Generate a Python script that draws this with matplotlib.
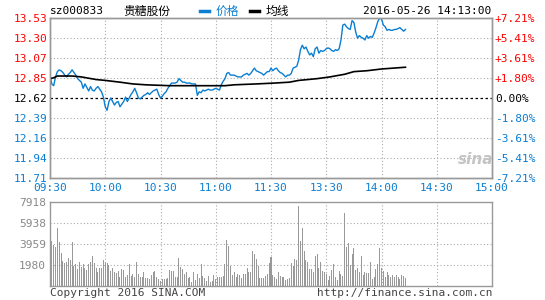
import matplotlib
matplotlib.use("Agg")
import matplotlib.pyplot as plt

# minutes since 09:30, lunch break removed (11:30 == 13:00)
price_min = list(range(0, 194))
price = [
    12.87, 12.78, 12.76, 12.86, 12.92, 12.94, 12.93, 12.91, 12.88, 12.86,
    12.89, 12.91, 12.94, 12.91, 12.88, 12.84, 12.82, 12.80, 12.73, 12.78,
    12.74, 12.70, 12.75, 12.71, 12.70, 12.73, 12.75, 12.72, 12.69, 12.63,
    12.52, 12.48, 12.58, 12.62, 12.58, 12.54, 12.57, 12.58, 12.52, 12.55,
    12.58, 12.63, 12.58, 12.62, 12.66, 12.69, 12.73, 12.68, 12.62, 12.61,
    12.63, 12.65, 12.66, 12.68, 12.66, 12.68, 12.70, 12.71, 12.72, 12.66,
    12.62, 12.64, 12.67, 12.69, 12.73, 12.76, 12.79, 12.79, 12.79, 12.80,
    12.84, 12.82, 12.80, 12.80, 12.79, 12.79, 12.79, 12.78, 12.78, 12.78,
    12.65, 12.69, 12.68, 12.71, 12.70, 12.71, 12.72, 12.71, 12.71, 12.72,
    12.73, 12.72, 12.71, 12.77, 12.81, 12.84, 12.90, 12.91, 12.88, 12.88,
    12.88, 12.87, 12.86, 12.86, 12.86, 12.88, 12.89, 12.90, 12.88, 12.90,
    12.93, 12.96, 12.93, 12.92, 12.91, 12.90, 12.88, 12.90, 12.92, 12.92,
    12.96, 12.93, 12.95, 12.96, 12.93, 12.91, 12.90, 12.88, 12.86, 12.88,
    12.88, 12.90, 12.96, 12.97, 12.98, 13.05, 13.17, 13.22, 13.18, 13.20,
    13.15, 13.11, 13.13, 13.09, 13.18, 13.20, 13.13, 13.16, 13.15, 13.16,
    13.18, 13.19, 13.18, 13.16, 13.15, 13.17, 13.16, 13.18, 13.28, 13.45,
    13.46, 13.43, 13.41, 13.40, 13.50, 13.48, 13.37, 13.30, 13.33, 13.31,
    13.30, 13.28, 13.33, 13.30, 13.32, 13.31, 13.36, 13.42, 13.49, 13.53,
    13.52, 13.45, 13.43, 13.39, 13.40, 13.39, 13.39, 13.40, 13.40, 13.41,
    13.42, 13.40, 13.38, 13.40,
]

avg_min = [0, 2, 4, 12, 17, 25, 30, 38, 45, 52, 65, 95, 100, 112, 122,
           130, 135, 145, 152, 160, 165, 172, 180, 193]
avg_price = [12.84, 12.85, 12.87, 12.87, 12.86, 12.83, 12.82, 12.80, 12.78,
             12.77, 12.76, 12.76, 12.77, 12.78, 12.79, 12.80, 12.82, 12.84,
             12.86, 12.89, 12.92, 12.93, 12.95, 12.97]

volume = [
    7918, 4240, 3830, 3610, 5400, 4145, 3046, 2355, 2100, 2260,
    2575, 2420, 4080, 1880, 2010, 1570, 2230, 1790, 2010, 1630,
    1475, 2040, 2260, 2795, 2100, 1630, 1320, 1630, 1630, 2420,
    2260, 2100, 1915, 1413, 1630, 1320, 1225, 1413, 850, 1540,
    1475, 785, 1005, 2040, 910, 1100, 785, 2200, 1100, 785,
    785, 1256, 690, 690, 600, 1005, 1256, 1380, 785, 600,
    470, 600, 600, 630, 755, 1475, 1380, 1380, 785, 850,
    2575, 1790, 1540, 1100, 1256, 690, 850, 377, 1256, 535,
    1100, 690, 2040, 910, 690, 470, 910, 377, 470, 1005,
    600, 850, 785, 850, 910, 2040, 4300, 3740, 1850, 1005,
    1320, 850, 1100, 1005, 755, 1100, 1100, 1630, 1256, 1320,
    3270, 2980, 2480, 1850, 690, 690, 690, 910, 1100, 2165,
    2670, 1005, 785, 600, 1320, 910, 850, 785, 535, 660,
    690, 2100, 1850, 2480, 2420, 7505, 4240, 5400, 3270, 2420,
    2200, 1540, 1540, 1256, 2795, 2980, 1630, 2200, 1413, 1320,
    1100, 535, 910, 1475, 2010, 785, 535, 1380, 1100, 910,
    6877, 3610, 3990, 1945, 2980, 3520, 1475, 1630, 1320, 2795,
    1005, 1320, 1225, 1225, 2260, 600, 785, 1540, 2010, 3520,
    1630, 1413, 785, 1320, 1005, 785, 1005, 850, 1005, 850,
    600, 1005, 910, 690,
]

time_ticks = [0, 30, 60, 90, 120, 150, 180, 210, 240]
time_labels = ["09:30", "10:00", "10:30", "11:00", "11:30",
               "13:30", "14:00", "14:30", "15:00"]
price_ticks = [11.71, 11.94, 12.16, 12.39, 12.62, 12.85, 13.07, 13.30, 13.53]
pct_labels = ["-7.21%", "-5.41%", "-3.61%", "-1.80%", "0.00%",
              "+1.80%", "+3.61%", "+5.41%", "+7.21%"]
vol_ticks = [1980, 3959, 5938, 7918]
vol_labels = ["1980", "3959", "5938", "7918"]

BLUE = "#0a7ed2"
RED = "#ff0000"
GRAY = "#999999"
MONO = "DejaVu Sans Mono"
CJK = ["Noto Sans CJK SC", "DejaVu Sans"]
FS = 8

fig = plt.figure(figsize=(5.45, 3.0), dpi=100)
ax = fig.add_axes([50 / 545, 1 - 178 / 300, 442 / 545, 160 / 300])
axv = fig.add_axes([50 / 545, 1 - 285.7 / 300, 442 / 545, 84 / 300])

# price panel
ax.plot(price_min, price, color=BLUE, lw=1.0, zorder=3)
ax.plot(avg_min, avg_price, color="black", lw=1.2, zorder=3)
ax.axhline(12.62, color="black", lw=0.9, ls=(0, (2, 2)), zorder=2)
ax.set_xlim(0, 240)
ax.set_ylim(11.71, 13.53)
ax.set_xticks(time_ticks)
ax.set_xticklabels(time_labels)
ax.set_yticks(price_ticks)
ax.set_yticklabels(["%.2f" % v for v in price_ticks])
for t in time_ticks[1:-1]:
    ax.axvline(t, color="#aaaaaa", lw=0.8, ls=(0, (1, 2)), zorder=1)
for v in price_ticks[1:-1]:
    if v != 12.62:
        ax.axhline(v, color="#aaaaaa", lw=0.8, ls=(0, (1, 2)), zorder=1)
ax.tick_params(axis="y", length=0, pad=2, labelsize=FS)
ax.tick_params(axis="x", length=0, pad=3.5, labelsize=FS)
for lbl in ax.get_xticklabels():
    lbl.set_fontfamily(MONO)
    lbl.set_color(BLUE)
for lbl, v in zip(ax.get_yticklabels(), price_ticks):
    lbl.set_fontfamily(MONO)
    lbl.set_color(RED if v > 12.62 else ("black" if v == 12.62 else BLUE))

axr = ax.twinx()
axr.set_ylim(11.71, 13.53)
axr.set_yticks(price_ticks)
axr.set_yticklabels(pct_labels)
axr.tick_params(length=0, pad=2, labelsize=FS)
for lbl, v in zip(axr.get_yticklabels(), price_ticks):
    lbl.set_fontfamily(MONO)
    lbl.set_color(RED if v > 12.62 else ("black" if v == 12.62 else BLUE))

for a in (ax, axr, axv):
    for s in a.spines.values():
        s.set_color(GRAY)
        s.set_linewidth(1.0)

# volume panel
axv.bar(range(len(volume)), volume, width=0.55, color="#999999", zorder=3)
axv.set_xlim(0, 240)
axv.set_ylim(0, 7918)
axv.set_xticks([])
axv.set_yticks(vol_ticks)
axv.set_yticklabels(vol_labels)
for t in time_ticks[1:-1]:
    axv.axvline(t, color="#aaaaaa", lw=0.8, ls=(0, (1, 2)), zorder=1)
for v in vol_ticks[:-1]:
    axv.axhline(v, color="#aaaaaa", lw=0.8, ls=(0, (1, 2)), zorder=1)
axv.tick_params(length=0, pad=3, labelsize=FS, labelcolor="#888888")
for lbl in axv.get_yticklabels():
    lbl.set_fontfamily(MONO)

# header
fig.text(50 / 545, 1 - 11 / 300, "sz000833", fontsize=FS, family=MONO,
         va="center", ha="left")
fig.text(147 / 545, 1 - 11 / 300, "贵糖股份", fontsize=8.5, family=CJK,
         va="center", ha="center")
fig.lines.append(plt.Line2D([200 / 545, 209 / 545], [1 - 11 / 300] * 2,
                            transform=fig.transFigure, color=BLUE, lw=2.5))
fig.text(216 / 545, 1 - 11 / 300, "价格", fontsize=8.5, family=CJK,
         color=BLUE, va="center", ha="left")
fig.lines.append(plt.Line2D([250 / 545, 259 / 545], [1 - 11 / 300] * 2,
                            transform=fig.transFigure, color="black", lw=2.5))
fig.text(266 / 545, 1 - 11 / 300, "均线", fontsize=8.5, family=CJK,
         va="center", ha="left")
fig.text(491 / 545, 1 - 11 / 300, "2016-05-26 14:13:00", fontsize=FS,
         family=MONO, va="center", ha="right")

# watermark
fig.text(476 / 545, 1 - 160 / 300, "sina", fontsize=11, fontweight="bold",
         style="italic", color="#c4c4c4", ha="center", va="center")

# footer
fig.text(50 / 545, 1 - 293 / 300, "Copyright 2016 SINA.COM", fontsize=FS,
         family=MONO, color="#444444", va="center", ha="left")
fig.text(492 / 545, 1 - 293 / 300, "http://finance.sina.com.cn", fontsize=FS,
         family=MONO, color="#444444", va="center", ha="right")

fig.savefig("out.png", dpi=100, facecolor="white")
